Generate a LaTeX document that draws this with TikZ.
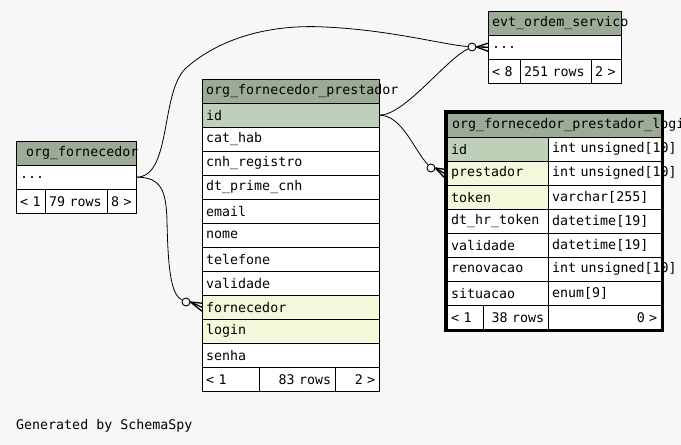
\documentclass[tikz,border=0pt]{standalone}
\usepackage{fontspec}
\setmonofont{DejaVu Sans Mono}
\usepackage{tikz}
\usepackage{xcolor}
\usetikzlibrary{fit}

\definecolor{hdrgreen}{HTML}{9BAB96}
\definecolor{pkgreen}{HTML}{BED1B8}
\definecolor{fkyellow}{HTML}{F4F7DA}
\definecolor{pagebg}{HTML}{F7F7F7}
\newcommand{\tblfont}{\ttfamily\fontsize{13.3pt}{16pt}\selectfont}

\tikzset{
  cell/.style={draw, rectangle, anchor=north west, inner xsep=4pt, inner ysep=0pt,
    minimum height=24pt, align=left, fill=white, font=\tblfont},
  hdr/.style={cell, fill=hdrgreen},
  odot/.style={circle, draw, line width=0.9pt, minimum size=8pt, inner sep=0pt},
  rel/.style={draw, line width=0.8pt},
  crow/.style={draw, line width=1.3pt},
}

\begin{document}
\begin{tikzpicture}[x=1pt, y=-1pt]
    \useasboundingbox (0,0) rectangle (681,445);
    \fill[pagebg] (0,0) rectangle (681,445);

    % org_fornecedor
    \node[hdr, text width=112pt] (fnHdr) at (16,141) {\hspace*{6pt}org\_fornecedor};
    \node[cell, text width=112pt] (fnDots) at (16,165) {...};
    \node[cell, text width=21pt] (fnPrev) at (16,189) {\mbox{< 1}};
    \node[cell, text width=54pt] (fnRows) at (45,189) {\mbox{79 rows}};
    \node[cell, text width=21pt] (fnNext) at (107,189) {\mbox{8 >}};

    % evt_ordem_servico
    \node[hdr, text width=125pt] (evtHdr) at (488,11) {evt\_ordem\_servico};
    \node[cell, text width=125pt] (evtDots) at (488,35) {...};
    \node[cell, text width=24pt] (evtPrev) at (488,59) {\mbox{< 8}};
    \node[cell, text width=63pt] (evtRows) at (520,59) {\mbox{251 rows}};
    \node[cell, text width=22pt] (evtNext) at (591,59) {\mbox{2 >}};

    % org_fornecedor_prestador
    \node[hdr, text width=169pt] (prHdr) at (202,79) {org\_fornecedor\_prestador};
    \foreach \lbl/\clr [count=\i] in {id/pkgreen, cat\_hab/white, cnh\_registro/white,
        dt\_prime\_cnh/white, email/white, nome/white, telefone/white, validade/white,
        fornecedor/fkyellow, login/fkyellow, senha/white}
      \node[cell, fill=\clr, text width=169pt] (pr-\i) at (202,{79+24*\i}) {\lbl};
    \node[cell, text width=49pt] (prPrev) at (202,367) {\mbox{< 1}};
    \node[cell, text width=68pt, align=right] (prRows) at (259,367) {\mbox{83 rows}};
    \node[cell, text width=36pt, align=right] (prNext) at (335,367) {\mbox{2 >}};

    % org_fornecedor_prestador_login
    \node[hdr, text width=206pt] (lgHdr) at (447,113) {\hspace*{1pt}org\_fornecedor\_prestador\_login};
    \foreach \lbl/\typ/\clr [count=\i] in {id/int unsigned[10]/pkgreen,
        prestador/int unsigned[10]/fkyellow, token/varchar[255]/fkyellow,
        dt\_hr\_token/datetime[19]/white, validade/datetime[19]/white,
        renovacao/int unsigned[10]/white, situacao/enum[9]/white} {
      \node[cell, fill=\clr, text width=93pt] (lg-\i) at (447,{113+24*\i}) {\lbl};
      \node[cell, text width=105pt] (lgt-\i) at (548,{113+24*\i}) {\mbox{\typ}};
    }
    \node[cell, text width=28pt] (lgPrev) at (447,305) {\mbox{< 1}};
    \node[cell, text width=57pt, align=right] (lgRows) at (483,305) {\mbox{38 rows}};
    \node[cell, text width=105pt, align=right] (lgNext) at (548,305) {\mbox{0 >}};
    \node[draw, line width=3pt, inner sep=1.5pt, fit=(lgHdr)(lgNext)] (lgBox) {};

    % Relationship ends
    \node[odot] (evtO) at (472,47) {};
    \node[odot] (fnO) at (186,302) {};
    \node[odot] (lgO) at (431,168) {};

    % Edges
    \draw[rel] (fnDots.east) .. controls (172,177) and (160,92) .. (186,68)
        .. controls (220,38) and (270,24) .. (325,27)
        .. controls (390,30) and (440,44) .. (evtO);
    \draw[rel] (fnDots.east) .. controls (162,177) and (166,192) .. (167,220)
        .. controls (168,275) and (172,295) .. (fnO);
    \draw[rel] (pr-1.east) .. controls (405,115) and (445,60) .. (evtO);
    \draw[rel] (pr-1.east) .. controls (402,115) and (414,150) .. (lgO);

    % Crow's feet
    \foreach \dy in {-4,0,4} {
      \draw[crow] (evtO.east) -- ([yshift=\dy pt]evtDots.west);
      \draw[crow] (fnO.east) -- ([yshift=\dy pt]pr-9.west);
      \draw[crow] (lgO.east) -- ([yshift=\dy pt, xshift=-3pt]lg-2.west);
    }

    % Footer
    \node[anchor=west, inner sep=0pt, font=\tblfont] (genNote) at (16,426) {Generated by SchemaSpy};
\end{tikzpicture}
\end{document}
